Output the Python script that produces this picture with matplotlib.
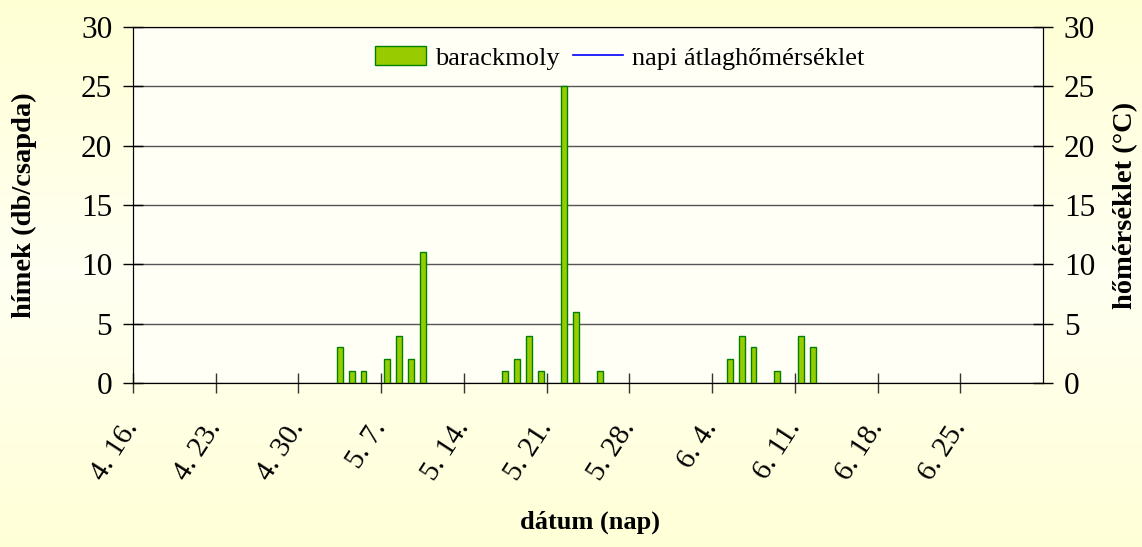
import datetime
import matplotlib.pyplot as plt
import numpy as np
from matplotlib.colors import LinearSegmentedColormap

# napi fogások (barackmoly hímek, db/csapda)
fogas_datum = ["5.3", "5.4", "5.5", "5.7", "5.8", "5.9", "5.10",
               "5.17", "5.18", "5.19", "5.20", "5.22", "5.23", "5.25",
               "6.5", "6.6", "6.7", "6.9", "6.11", "6.12"]
fogas_db = [3, 1, 1, 2, 4, 2, 11,
            1, 2, 4, 1, 25, 6, 1,
            2, 4, 3, 1, 4, 3]

tick_labels = ["4. 16.", "4. 23.", "4. 30.", "5. 7.", "5. 14.", "5. 21.",
               "5. 28.", "6. 4.", "6. 11.", "6. 18.", "6. 25."]

kezdo = datetime.date(2000, 4, 16)
veg = datetime.date(2000, 7, 1)


def nap(s):
    h, n = s.split(".")
    return (datetime.date(2000, int(h), int(n)) - kezdo).days


napok = [nap(d) for d in fogas_datum]
ossz_nap = (veg - kezdo).days + 1

plt.rcParams['font.family'] = ['Liberation Serif', 'DejaVu Serif']

fig = plt.figure(figsize=(11.42, 5.47), dpi=100)

# halvány sárga háttér
bg = fig.add_axes([0, 0, 1, 1], zorder=-10)
grad = np.concatenate([np.linspace(0, 1, 50), np.linspace(1, 0.1, 50)])[:, None]
cm = LinearSegmentedColormap.from_list("bg", ["#FFFFD4", "#FFFFF2"])
bg.imshow(grad, aspect="auto", cmap=cm, extent=[0, 1, 0, 1])
bg.axis("off")

ax = fig.add_axes([0.1165, 0.2998, 0.7968, 0.6508])
ax.set_facecolor("#FFFFF6")
ax.bar(napok, fogas_db, width=0.5, color="#99CC00", edgecolor="#008000",
       linewidth=1.0, label="barackmoly", zorder=3)

ax.set_xlim(-0.5, ossz_nap - 0.5)
ax.set_ylim(0, 30)
ax.set_yticks(range(0, 31, 5))
ax.yaxis.grid(True, color="#555555", linewidth=1.0)
ax.set_axisbelow(True)

ax.set_xticks(np.arange(len(tick_labels)) * 7 - 0.5)
ax.set_xticklabels(tick_labels, rotation=57, ha="right", va="center",
                   rotation_mode="anchor")
ax.tick_params(axis="x", direction="inout", length=14, width=1, pad=22,
               labelsize=21, color="#333333")
ax.tick_params(axis="y", direction="inout", length=14, width=1, pad=8,
               labelsize=22.5)
for s in ["left", "right", "bottom"]:
    ax.spines[s].set_color("black")
ax.spines["top"].set_color("#555555")

ax2 = ax.twinx()
ax2.set_ylim(0, 30)
ax2.set_yticks(range(0, 31, 5))
ax2.tick_params(axis="y", direction="inout", length=14, width=1, pad=8,
                labelsize=22.5)
ax2.plot([], [], color="blue", linewidth=1.2, label="napi átlaghőmérséklet")

ax.set_ylabel("hímek (db/csapda)", fontsize=20.5, fontweight="bold")
ax.yaxis.set_label_coords(-0.106, 0.5)
ax2.set_ylabel("hőmérséklet (°C)", fontsize=20.5, fontweight="bold")
ax2.yaxis.set_label_coords(1.077, 0.5)
fig.text(0.517, 0.045, "dátum (nap)", fontsize=19, fontweight="bold",
         ha="center", va="center")

h1, l1 = ax.get_legend_handles_labels()
h2, l2 = ax2.get_legend_handles_labels()
ax2.legend(h1 + h2, l1 + l2, loc="center", bbox_to_anchor=(0.535, 0.913),
           ncol=2, frameon=False, fontsize=19, handlelength=1.9,
           handletextpad=0.35, columnspacing=0.5)

fig.savefig("out.png", dpi=100)
